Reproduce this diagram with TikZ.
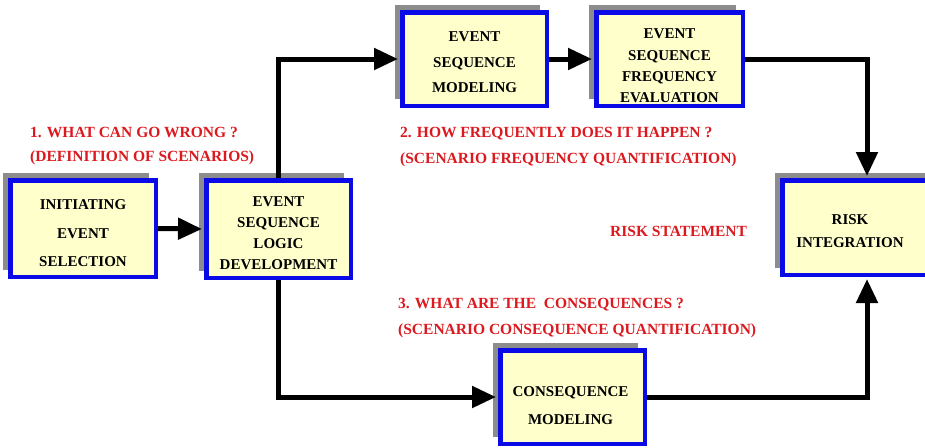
\documentclass[tikz,border=0pt]{standalone}
\usepackage{fontspec}
\setmainfont{Liberation Serif}
\usetikzlibrary{arrows.meta,shadows}

\definecolor{boxblue}{RGB}{10,10,230}
\definecolor{boxfill}{RGB}{255,255,204}
\definecolor{shadowgray}{RGB}{140,140,140}
\definecolor{qred}{RGB}{220,25,30}

\tikzset{
  box/.style={rectangle, draw=boxblue, line width=4.5pt, fill=boxfill,
    drop shadow={shadow xshift=-7pt, shadow yshift=7pt, fill=shadowgray, opacity=1}},
  boxtext/.style={align=center, inner sep=0pt, text=black,
    font=\bfseries\fontsize{15}{#1}\selectfont},
  question/.style={anchor=base west, inner sep=0pt, text=qred,
    font=\bfseries\fontsize{15.5}{18}\selectfont},
  flow/.style={line width=5pt, -{Triangle[length=24pt,width=21pt]}, shorten >=2pt}
}

\begin{document}
\begin{tikzpicture}[x=1pt, y=-1pt]
  \useasboundingbox (0,0) rectangle (925,447);
  \fill[white] (0,0) rectangle (925,447);
  \clip (0,0) rectangle (925,447);

  % process boxes
  \node[box, minimum width=145.5pt, minimum height=96.5pt] (init) at (83,228.5) {};
  \node[boxtext=28.5] (initT) at (83,233.5) {INITIATING\\EVENT\\SELECTION};

  \node[box, minimum width=144.5pt, minimum height=97.5pt] (esld) at (278.5,229) {};
  \node[boxtext=21] (esldT) at (278.5,233.5) {EVENT\\SEQUENCE\\LOGIC\\DEVELOPMENT};

  \node[box, minimum width=144.5pt, minimum height=93.5pt] (esm) at (474.5,59) {};
  \node[boxtext=25.5] (esmT) at (474.5,62.5) {EVENT\\SEQUENCE\\MODELING};

  \node[box, minimum width=146.5pt, minimum height=93.5pt] (esfe) at (669.5,59) {};
  \node[boxtext=21.3] (esfeT) at (669.5,66) {EVENT\\SEQUENCE\\FREQUENCY\\EVALUATION};

  \node[box, minimum width=169.5pt, minimum height=94.5pt] (ri) at (867,227.5) {};
  \node[boxtext=23] (riT) at (850,231.5) {RISK\\INTEGRATION};

  \node[box, minimum width=144.5pt, minimum height=93.5pt] (cons) at (572.5,397) {};
  \node[boxtext=28] (consT) at (570.5,406) {CONSEQUENCE\\MODELING};

  % connectors
  \draw[flow] (init.east) -- (esld.west);
  \draw[flow] (esld.north) |- (esm.west);
  \draw[flow] (esm.east) -- (esfe.west);
  \draw[flow] (esfe.east) -| (ri.north);
  \draw[flow] (esld.south) |- (cons.west);
  \draw[flow] (cons.east) -| (ri.south);

  % questions
  \node[question] (q1a) at (30,137) {1. WHAT CAN GO WRONG ?};
  \node[question] (q1b) at (30,161) {(DEFINITION OF SCENARIOS)};
  \node[question] (q2a) at (400,137) {2. HOW FREQUENTLY DOES IT HAPPEN ?};
  \node[question] (q2b) at (400,163) {(SCENARIO FREQUENCY QUANTIFICATION)};
  \node[question] (rs) at (610,236) {RISK STATEMENT};
  \node[question] (q3a) at (398,308) {3. WHAT ARE THE~ CONSEQUENCES ?};
  \node[question] (q3b) at (398,334) {(SCENARIO CONSEQUENCE QUANTIFICATION)};
\end{tikzpicture}
\end{document}
